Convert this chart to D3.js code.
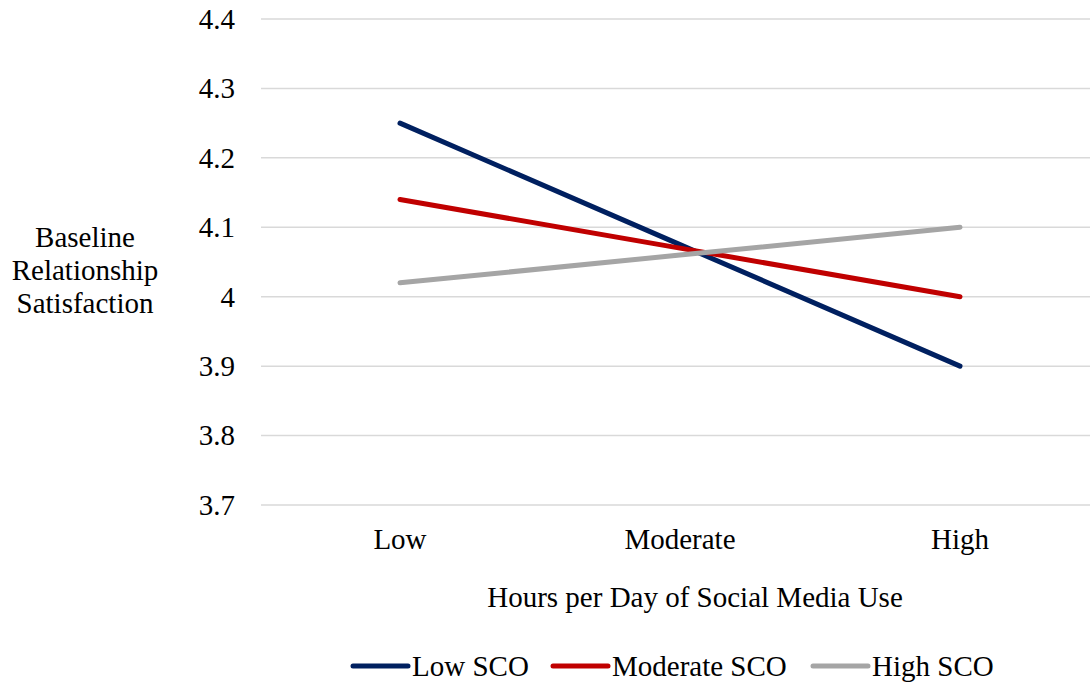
<!DOCTYPE html>
<html>
<head>
<meta charset="utf-8">
<script src="https://cdn.jsdelivr.net/npm/d3@7"></script>
<style>
  body { margin: 0; background: #fff; }
  svg { display: block; font-family: "Liberation Serif", "Times New Roman", serif; }
</style>
</head>
<body>
<div id="chart"></div>
<script>
// data
const categories = ["Low", "Moderate", "High"];
const seriesNames = ["Low SCO", "Moderate SCO", "High SCO"];
const lowSCO = [4.25, 4.075, 3.9];
const moderateSCO = [4.14, 4.07, 4.0];
const highSCO = [4.02, 4.06, 4.1];
const yTicks = [3.7, 3.8, 3.9, 4.0, 4.1, 4.2, 4.3, 4.4];
const colors = ["#002060", "#C00000", "#A5A5A5"];

const width = 1090, height = 683;
const fontSize = 29;
const series = [lowSCO, moderateSCO, highSCO].map((v, i) => ({ name: seriesNames[i], values: v, color: colors[i] }));

const svg = d3.select("#chart").append("svg")
  .attr("width", width)
  .attr("height", height);

const x = d3.scalePoint()
  .domain(categories)
  .range([400, 960]);

const y = d3.scaleLinear()
  .domain([3.7, 4.4])
  .range([505, 19]);

// gridlines
svg.append("g")
  .selectAll("line")
  .data(yTicks)
  .join("line")
  .attr("x1", 261)
  .attr("x2", 1100)
  .attr("y1", d => y(d))
  .attr("y2", d => y(d))
  .attr("stroke", "#D9D9D9")
  .attr("stroke-width", 1.5);

// y tick labels
svg.append("g")
  .selectAll("text")
  .data(yTicks)
  .join("text")
  .attr("x", 235)
  .attr("y", d => y(d))
  .attr("dy", "0.34em")
  .attr("text-anchor", "end")
  .attr("font-size", fontSize)
  .text(d => d === 4 ? "4" : d3.format(".1f")(d));

// x category labels
svg.append("g")
  .selectAll("text")
  .data(categories)
  .join("text")
  .attr("x", d => x(d))
  .attr("y", 549)
  .attr("text-anchor", "middle")
  .attr("font-size", fontSize)
  .text(d => d);

// axis titles
svg.append("text")
  .attr("x", 695)
  .attr("y", 607)
  .attr("text-anchor", "middle")
  .attr("font-size", fontSize)
  .text("Hours per Day of Social Media Use");

svg.append("text")
  .attr("text-anchor", "middle")
  .attr("font-size", fontSize)
  .selectAll("tspan")
  .data(["Baseline", "Relationship", "Satisfaction"])
  .join("tspan")
  .attr("x", 85)
  .attr("y", (d, i) => 247 + i * 33)
  .text(d => d);

// lines
const line = d3.line()
  .x((d, i) => x(categories[i]))
  .y(d => y(d));

svg.append("g")
  .selectAll("path")
  .data(series)
  .join("path")
  .attr("d", d => line(d.values))
  .attr("fill", "none")
  .attr("stroke", d => d.color)
  .attr("stroke-width", 5)
  .attr("stroke-linecap", "round")
  .attr("stroke-linejoin", "round");

// legend
const legendX = [353, 553, 813];
const legend = svg.append("g")
  .selectAll("g")
  .data(series)
  .join("g")
  .attr("transform", (d, i) => `translate(${legendX[i]},666)`);

legend.append("line")
  .attr("x1", 0)
  .attr("x2", 55)
  .attr("stroke", d => d.color)
  .attr("stroke-width", 5)
  .attr("stroke-linecap", "round");

legend.append("text")
  .attr("x", 59)
  .attr("dy", "0.34em")
  .attr("font-size", fontSize)
  .text(d => d.name);
</script>
</body>
</html>
